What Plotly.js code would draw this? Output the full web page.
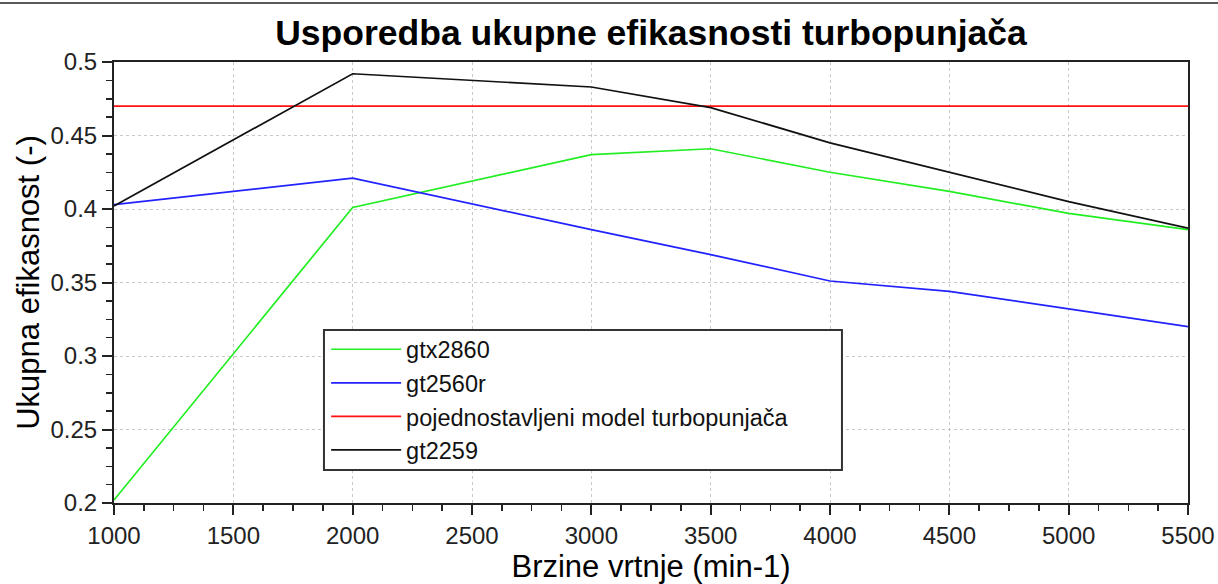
<!DOCTYPE html>
<html>
<head>
<meta charset="utf-8">
<script src="https://cdn.plot.ly/plotly-3.0.1.min.js"></script>
<style>html,body{margin:0;padding:0;background:#fff;}#chart{width:1218px;height:584px;}</style>
</head>
<body>
<div id="chart"></div>
<script>
const rpm = [1000, 2000, 3000, 3500, 4000, 4500, 5000, 5500];
const gtx2860 = [0.202, 0.401, 0.437, 0.441, 0.425, 0.412, 0.397, 0.386];
const gt2560r = [0.403, 0.421, 0.386, 0.369, 0.351, 0.344, 0.332, 0.320];
const modelRpm = [1000, 5500];
const modelEff = [0.47, 0.47];
const gt2259 = [0.402, 0.492, 0.483, 0.469, 0.445, 0.425, 0.405, 0.387];

const names = ['gtx2860', 'gt2560r', 'pojednostavljeni model turbopunjača', 'gt2259'];
const colors = ['#22ee22', '#2222ff', '#ff1111', '#111111'];

const traces = [
  {x: rpm, y: gtx2860, name: names[0], color: colors[0]},
  {x: rpm, y: gt2560r, name: names[1], color: colors[1]},
  {x: modelRpm, y: modelEff, name: names[2], color: colors[2]},
  {x: rpm, y: gt2259, name: names[3], color: colors[3]}
].map((t, i) => ({
  x: t.x, y: t.y, name: t.name, type: 'scatter', mode: 'lines',
  line: {color: t.color, width: 1.7}
}));

const font = 'Liberation Sans, Arial, sans-serif';
const layout = {
  width: 1218, height: 584,
  margin: {l: 114, r: 30, t: 62, b: 81},
  paper_bgcolor: '#fff', plot_bgcolor: '#fff',
  font: {family: font, color: '#222'},
  title: {text: '<b>Usporedba ukupne efikasnosti turbopunjača</b>', font: {size: 35.5, color: '#000', family: font}, x: 0.5345, xanchor: 'center', y: 0.945, yanchor: 'middle'},
  showlegend: true,
  legend: {
    x: 0.1975, y: 0.398, xanchor: 'left', yanchor: 'top',
    bgcolor: 'rgba(0,0,0,0)', borderwidth: 0,
    font: {size: 23.5, color: '#111', family: font},
    itemwidth: 70, traceorder: 'normal'
  },
  xaxis: {
    range: [1000, 5500], dtick: 500, tick0: 1000,
    ticks: 'outside', ticklen: 10, tickwidth: 2, tickcolor: '#222',
    minor: {dtick: 125, ticks: 'outside', ticklen: 6, tickwidth: 1.5, tickcolor: '#222', showgrid: false},
    showline: true, linecolor: '#222', linewidth: 2, mirror: true,
    showgrid: true, gridcolor: '#c8c8c8', griddash: 'dot', gridwidth: 1,
    zeroline: false,
    tickfont: {size: 24, color: '#222'},
    title: {text: 'Brzine vrtnje (min-1)', font: {size: 31, color: '#000'}, standoff: 4}
  },
  yaxis: {
    range: [0.2, 0.5], dtick: 0.05, tick0: 0.2,
    ticks: 'outside', ticklen: 10, tickwidth: 2, tickcolor: '#222',
    minor: {dtick: 0.0125, ticks: 'outside', ticklen: 6, tickwidth: 1.5, tickcolor: '#222', showgrid: false},
    showline: true, linecolor: '#222', linewidth: 2, mirror: true,
    showgrid: true, gridcolor: '#c8c8c8', griddash: 'dot', gridwidth: 1,
    zeroline: false,
    tickfont: {size: 24, color: '#222'},
    title: {text: 'Ukupna efikasnost (-)', font: {size: 31, color: '#000'}, standoff: 2}
  },
  shapes: [
    {type: 'line', xref: 'paper', yref: 'paper', x0: -0.2, x1: 1.1, y0: 1.1338, y1: 1.1338, line: {color: '#222', width: 1.5}},
    {type: 'rect', xref: 'paper', yref: 'paper', x0: 0.1955, x1: 0.6778, y0: 0.0748, y1: 0.3923, layer: 'above', fillcolor: '#fff', line: {color: '#333', width: 2}}
  ]
};

Plotly.newPlot('chart', traces, layout, {displayModeBar: false, staticPlot: true});
</script>
</body>
</html>
